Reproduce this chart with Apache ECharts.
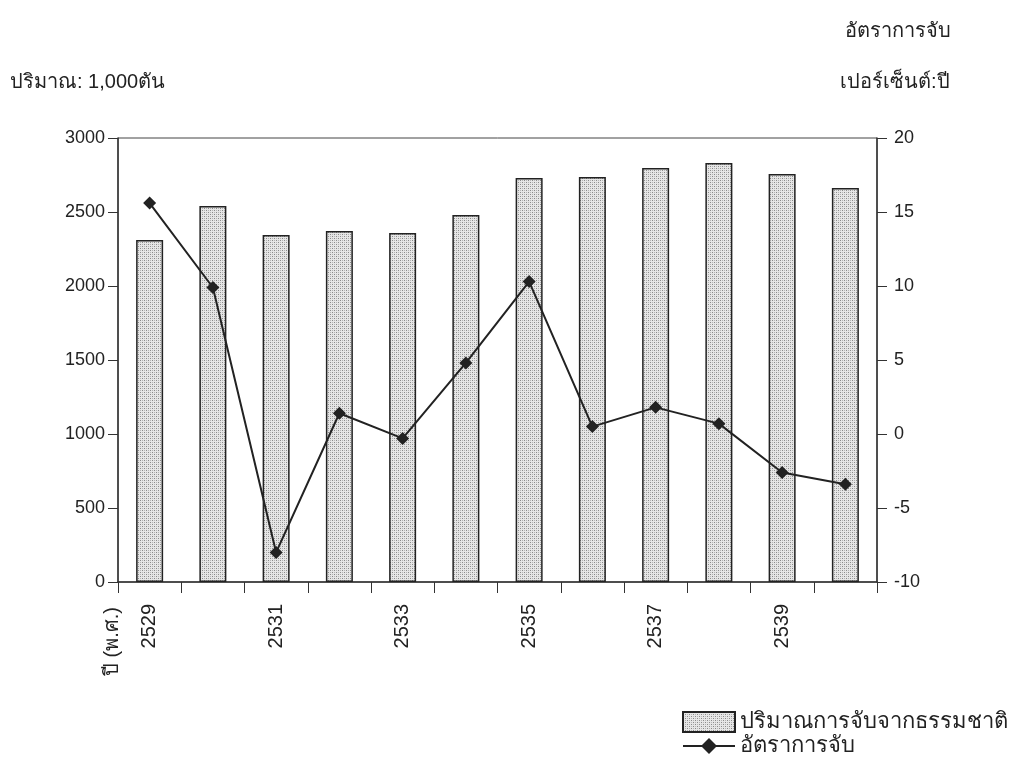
<!DOCTYPE html>
<html>
<head>
<meta charset="utf-8">
<script src="https://cdn.jsdelivr.net/npm/echarts@6/dist/echarts.min.js"></script>
<style>
  html, body { margin: 0; padding: 0; background: #fff; }
  #main { width: 1032px; height: 765px; }
</style>
</head>
<body>
<div id="main"></div>
<script>
var years = ['2529', '2530', '2531', '2532', '2533', '2534', '2535', '2536', '2537', '2538', '2539', '2540'];
var catch_qty = [2310, 2540, 2345, 2372, 2358, 2480, 2730, 2737, 2797, 2831, 2757, 2662];
var catch_rate = [15.6, 9.9, -8.0, 1.4, -0.3, 4.8, 10.3, 0.5, 1.8, 0.7, -2.6, -3.4];
var leftTicks = [0, 3000, 500];
var rightTicks = [-10, 20, 5];

var FONT = '"Liberation Sans", "DejaVu Sans", sans-serif';

// dotted fill like the scanned bars
function dotPattern() {
    var c = document.createElement('canvas');
    c.width = 4; c.height = 4;
    var ctx = c.getContext('2d');
    ctx.fillStyle = '#e6e6e6';
    ctx.fillRect(0, 0, 4, 4);
    ctx.fillStyle = '#8a8a8a';
    ctx.fillRect(0, 0, 1, 1);
    ctx.fillRect(2, 2, 1, 1);
    ctx.fillStyle = '#b4b4b4';
    ctx.fillRect(2, 0, 1, 1);
    ctx.fillRect(0, 2, 1, 1);
    return c;
}

var dom = document.getElementById('main');
var myChart = echarts.init(dom);

var option = {
    animation: false,
    backgroundColor: '#fff',
    textStyle: { fontFamily: FONT, color: '#222' },
    grid: {
        left: 118, right: 155, top: 138, bottom: 183,
        show: true, borderColor: '#444', borderWidth: 1
    },
    legend: {
        orient: 'vertical',
        left: 682, top: 711,
        padding: 0,
        itemWidth: 52, itemHeight: 20, itemGap: 2,
        textStyle: { fontSize: 22, color: '#222', fontFamily: FONT },
        data: [
            { name: 'ปริมาณการจับจากธรรมชาติ', icon: 'rect' },
            { name: 'อัตราการจับ' }
        ]
    },
    graphic: [
        { type: 'text', left: 10, top: 72, style: { text: 'ปริมาณ: 1,000ตัน', font: '20px ' + FONT, fill: '#222' } },
        { type: 'text', left: 845, top: 21, style: { text: 'อัตราการจับ', font: '20px ' + FONT, fill: '#222' } },
        { type: 'text', left: 840, top: 72, style: { text: 'เปอร์เซ็นต์:ปี', font: '20px ' + FONT, fill: '#222' } },
        { type: 'text', x: 102, y: 676, rotation: Math.PI / 2, style: { text: 'ปี (พ.ศ.)', font: '20px ' + FONT, fill: '#222' } }
    ],
    xAxis: {
        type: 'category',
        data: years,
        axisLine: { lineStyle: { color: '#333', width: 1.5 } },
        axisTick: { show: true, interval: 0, length: 11, lineStyle: { color: '#333' } },
        axisLabel: { interval: 1, rotate: 90, fontSize: 20, color: '#222', margin: 22 }
    },
    yAxis: [
        {
            type: 'value',
            min: leftTicks[0], max: leftTicks[1], interval: leftTicks[2],
            axisLine: { show: true, lineStyle: { color: '#333', width: 1.5 } },
            axisTick: { show: true, length: 10, lineStyle: { color: '#333' } },
            splitLine: { show: false },
            axisLabel: { fontSize: 18, color: '#222', margin: 13, formatter: function (v) { return String(v); } }
        },
        {
            type: 'value',
            min: rightTicks[0], max: rightTicks[1], interval: rightTicks[2],
            axisLine: { show: true, lineStyle: { color: '#333', width: 1.5 } },
            axisTick: { show: true, length: 10, lineStyle: { color: '#333' } },
            splitLine: { show: false },
            axisLabel: { fontSize: 18, color: '#222', margin: 17, formatter: function (v) { return String(v); } }
        }
    ],
    series: [
        {
            name: 'ปริมาณการจับจากธรรมชาติ',
            type: 'bar',
            yAxisIndex: 0,
            barWidth: 27,
            data: catch_qty,
            itemStyle: {
                color: { image: dotPattern(), repeat: 'repeat' },
                borderColor: '#222',
                borderWidth: 1.5
            }
        },
        {
            name: 'อัตราการจับ',
            type: 'line',
            yAxisIndex: 1,
            data: catch_rate,
            symbol: 'diamond',
            symbolSize: 13,
            lineStyle: { color: '#222', width: 2 },
            itemStyle: { color: '#222' }
        }
    ]
};

if (option && typeof option === "object") {
    myChart.setOption(option, true);
}
</script>
</body>
</html>
